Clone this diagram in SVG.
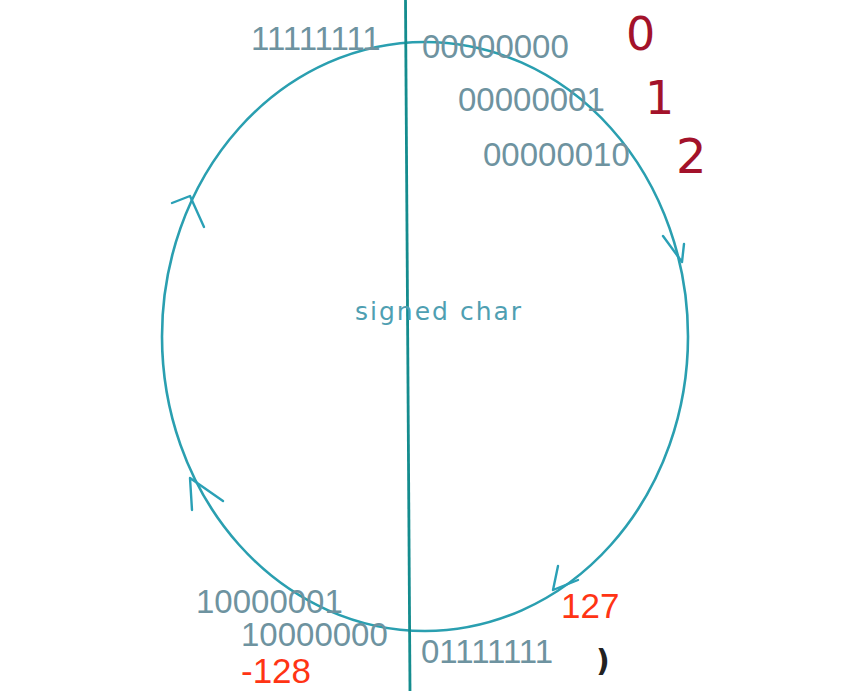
<svg xmlns="http://www.w3.org/2000/svg" width="852" height="691" viewBox="0 0 852 691">
<style>
.ring{fill:none;stroke:#2a9fb0;stroke-width:2.6}
.axis{fill:none;stroke:#148c8e;stroke-width:2.8}
.arr{fill:none;stroke:#2aa0b6;stroke-width:2.4;stroke-linecap:round;stroke-linejoin:round}
.bin{font-family:"Liberation Sans",Arial,sans-serif;font-size:33px;fill:#6e93a0}
.red{font-family:"Liberation Sans",Arial,sans-serif;font-size:35px;fill:#ff3414}
.hand{font-family:"DejaVu Sans","Liberation Sans",sans-serif;fill:#a3122a}
.title{font-family:"DejaVu Sans","Liberation Sans",sans-serif;font-size:25px;fill:#4f9fb2;letter-spacing:2px}
</style>
<rect width="852" height="691" fill="#ffffff"/>
<g id="wheel">
<ellipse class="ring" cx="425" cy="336.5" rx="263" ry="294.5"/>
</g>
<g id="connectors">
<line class="axis" x1="405.5" y1="0" x2="410" y2="691"/>
<path class="arr" d="M172,203 L190,196 L204,227"/>
<path class="arr" d="M192,510 L190,478 L223,501"/>
<path class="arr" d="M663,236 L682,262 L684,244"/>
<path class="arr" d="M558,566 L553,590 L578,580"/>
</g>
<g id="label-center"><text class="title" x="355" y="320">signed char</text></g>
<g id="n-ff"><text class="bin" x="251" y="50" font-size="30">11111111</text></g>
<g id="n-00"><text class="bin" x="422" y="58">00000000</text></g>
<g id="n-01"><text class="bin" x="458" y="111">00000001</text></g>
<g id="n-02"><text class="bin" x="483" y="166">00000010</text></g>
<g id="n-81"><text class="bin" x="196" y="613">10000001</text></g>
<g id="n-80"><text class="bin" x="241" y="646" font-size="32">10000000</text></g>
<g id="n-7f"><text class="bin" x="421" y="663">01111111</text></g>
<g id="v-127"><text class="red" x="561" y="618">127</text></g>
<g id="v-128"><text class="red" x="241" y="683" font-size="34">-128</text></g>
<g id="hand-marks">
<text class="hand" x="626" y="50" font-size="46">0</text>
<text class="hand" x="645" y="114" font-size="46">1</text>
<text class="hand" x="676" y="173" font-size="48">2</text>
<text x="596" y="671" font-family="DejaVu Sans,sans-serif" font-size="30" font-weight="bold" fill="#222">)</text>
</g>
</svg>
